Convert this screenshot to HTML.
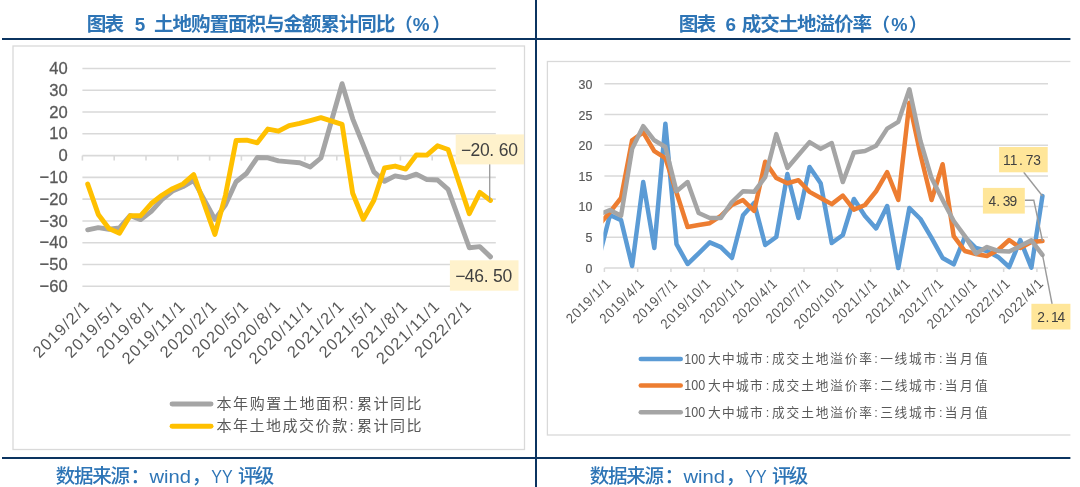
<!DOCTYPE html>
<html><head><meta charset="utf-8"><title>chart</title>
<style>html,body{margin:0;padding:0;background:#fff}svg{display:block}</style></head>
<body><svg role="img" aria-label="图表5 土地购置面积与金额累计同比（%）; 图表6 成交土地溢价率（%）; 数据来源：wind，YY评级" style="will-change:transform" width="1080" height="487" viewBox="0 0 1080 487" font-family="Liberation Sans, sans-serif">
<rect width="1080" height="487" fill="#fff"/>
<rect x="2" y="38" width="1068.4" height="2" fill="#0B3460"/>
<rect x="2" y="457" width="1068.4" height="2" fill="#0B3460"/>
<rect x="535" y="0" width="2" height="487" fill="#0B3460"/>
<g font-family="'Liberation Sans', 'Noto Sans CJK SC', sans-serif" font-weight="bold" fill="#2E75B6">
<text x="86.79" y="30.5" font-size="19.6" textLength="37.3" lengthAdjust="spacing">图表</text>
<text x="134.81" y="30.5" font-size="18.9">5</text>
<text x="154" y="30.5" font-size="19.6" textLength="241.4" lengthAdjust="spacing">土地购置面积与金额累计同比</text>
<text x="394.47" y="30.5" font-size="18.3">（</text>
<text x="412.8" y="30.5" font-size="18.9">%</text>
<text x="432.23" y="30.5" font-size="18.3">）</text>
<text x="678.69" y="30.5" font-size="19.6" textLength="37.36" lengthAdjust="spacing">图表</text>
<text x="725.45" y="30.5" font-size="18.9">6</text>
<text x="741.71" y="30.5" font-size="19.6" textLength="130.4" lengthAdjust="spacing">成交土地溢价率</text>
<text x="871.67" y="30.5" font-size="18.3">（</text>
<text x="891.21" y="30.5" font-size="18.3">%</text>
<text x="908.93" y="30.5" font-size="18.3">）</text>
</g>
<g font-family="'Liberation Sans', 'Noto Sans CJK SC', sans-serif" font-weight="500" fill="#2E75B6">
<text x="55.63" y="483.3" font-size="19.5" textLength="74.4" lengthAdjust="spacing">数据来源</text>
<text x="130.51" y="483.3" font-size="19.5">：</text>
<text x="149.49" y="483.3" font-size="18.9" textLength="41.5" lengthAdjust="spacingAndGlyphs">wind</text>
<text x="191.63" y="483.3" font-size="19.5">，</text>
<text x="211.31" y="483.3" font-size="18.9" textLength="21.4" lengthAdjust="spacingAndGlyphs">YY</text>
<text x="237.97" y="483.3" font-size="19.5" textLength="36.3" lengthAdjust="spacing">评级</text>
<text x="589.63" y="483.3" font-size="19.5" textLength="74.4" lengthAdjust="spacing">数据来源</text>
<text x="664.51" y="483.3" font-size="19.5">：</text>
<text x="683.49" y="483.3" font-size="18.9" textLength="41.5" lengthAdjust="spacingAndGlyphs">wind</text>
<text x="725.63" y="483.3" font-size="19.5">，</text>
<text x="745.31" y="483.3" font-size="18.9" textLength="21.4" lengthAdjust="spacingAndGlyphs">YY</text>
<text x="771.97" y="483.3" font-size="19.5" textLength="36.3" lengthAdjust="spacing">评级</text>
</g>
<rect x="13" y="46" width="511.5" height="403.5" fill="#fff" stroke="#D9D9D9" stroke-width="1.3"/>
<line x1="82.4" x2="495.8" y1="286.28" y2="286.28" stroke="#D9D9D9" stroke-width="1.6"/>
<text transform="translate(67.6,291.93) scale(0.97,1)" font-family="Liberation Sans, sans-serif" font-size="17.1" fill="#595959" stroke="#595959" stroke-width="0.3" text-anchor="end">−60</text>
<line x1="82.4" x2="495.8" y1="264.50" y2="264.50" stroke="#D9D9D9" stroke-width="1.6"/>
<text transform="translate(67.6,270.15) scale(0.97,1)" font-family="Liberation Sans, sans-serif" font-size="17.1" fill="#595959" stroke="#595959" stroke-width="0.3" text-anchor="end">−50</text>
<line x1="82.4" x2="495.8" y1="242.72" y2="242.72" stroke="#D9D9D9" stroke-width="1.6"/>
<text transform="translate(67.6,248.37) scale(0.97,1)" font-family="Liberation Sans, sans-serif" font-size="17.1" fill="#595959" stroke="#595959" stroke-width="0.3" text-anchor="end">−40</text>
<line x1="82.4" x2="495.8" y1="220.94" y2="220.94" stroke="#D9D9D9" stroke-width="1.6"/>
<text transform="translate(67.6,226.59) scale(0.97,1)" font-family="Liberation Sans, sans-serif" font-size="17.1" fill="#595959" stroke="#595959" stroke-width="0.3" text-anchor="end">−30</text>
<line x1="82.4" x2="495.8" y1="199.16" y2="199.16" stroke="#D9D9D9" stroke-width="1.6"/>
<text transform="translate(67.6,204.81) scale(0.97,1)" font-family="Liberation Sans, sans-serif" font-size="17.1" fill="#595959" stroke="#595959" stroke-width="0.3" text-anchor="end">−20</text>
<line x1="82.4" x2="495.8" y1="177.38" y2="177.38" stroke="#D9D9D9" stroke-width="1.6"/>
<text transform="translate(67.6,183.03) scale(0.97,1)" font-family="Liberation Sans, sans-serif" font-size="17.1" fill="#595959" stroke="#595959" stroke-width="0.3" text-anchor="end">−10</text>
<line x1="82.4" x2="495.8" y1="155.60" y2="155.60" stroke="#D9D9D9" stroke-width="1.6"/>
<text transform="translate(67.6,161.25) scale(0.97,1)" font-family="Liberation Sans, sans-serif" font-size="17.1" fill="#595959" stroke="#595959" stroke-width="0.3" text-anchor="end">0</text>
<line x1="82.4" x2="495.8" y1="133.82" y2="133.82" stroke="#D9D9D9" stroke-width="1.6"/>
<text transform="translate(67.6,139.47) scale(0.97,1)" font-family="Liberation Sans, sans-serif" font-size="17.1" fill="#595959" stroke="#595959" stroke-width="0.3" text-anchor="end">10</text>
<line x1="82.4" x2="495.8" y1="112.04" y2="112.04" stroke="#D9D9D9" stroke-width="1.6"/>
<text transform="translate(67.6,117.69) scale(0.97,1)" font-family="Liberation Sans, sans-serif" font-size="17.1" fill="#595959" stroke="#595959" stroke-width="0.3" text-anchor="end">20</text>
<line x1="82.4" x2="495.8" y1="90.26" y2="90.26" stroke="#D9D9D9" stroke-width="1.6"/>
<text transform="translate(67.6,95.91) scale(0.97,1)" font-family="Liberation Sans, sans-serif" font-size="17.1" fill="#595959" stroke="#595959" stroke-width="0.3" text-anchor="end">30</text>
<line x1="82.4" x2="495.8" y1="68.48" y2="68.48" stroke="#D9D9D9" stroke-width="1.6"/>
<text transform="translate(67.6,74.13) scale(0.97,1)" font-family="Liberation Sans, sans-serif" font-size="17.1" fill="#595959" stroke="#595959" stroke-width="0.3" text-anchor="end">40</text>
<line x1="82.40" x2="82.40" y1="155.6" y2="160.6" stroke="#D9D9D9" stroke-width="1.6"/>
<line x1="114.20" x2="114.20" y1="155.6" y2="160.6" stroke="#D9D9D9" stroke-width="1.6"/>
<line x1="146.00" x2="146.00" y1="155.6" y2="160.6" stroke="#D9D9D9" stroke-width="1.6"/>
<line x1="177.80" x2="177.80" y1="155.6" y2="160.6" stroke="#D9D9D9" stroke-width="1.6"/>
<line x1="209.60" x2="209.60" y1="155.6" y2="160.6" stroke="#D9D9D9" stroke-width="1.6"/>
<line x1="241.40" x2="241.40" y1="155.6" y2="160.6" stroke="#D9D9D9" stroke-width="1.6"/>
<line x1="273.20" x2="273.20" y1="155.6" y2="160.6" stroke="#D9D9D9" stroke-width="1.6"/>
<line x1="305.00" x2="305.00" y1="155.6" y2="160.6" stroke="#D9D9D9" stroke-width="1.6"/>
<line x1="336.80" x2="336.80" y1="155.6" y2="160.6" stroke="#D9D9D9" stroke-width="1.6"/>
<line x1="368.60" x2="368.60" y1="155.6" y2="160.6" stroke="#D9D9D9" stroke-width="1.6"/>
<line x1="400.40" x2="400.40" y1="155.6" y2="160.6" stroke="#D9D9D9" stroke-width="1.6"/>
<line x1="432.20" x2="432.20" y1="155.6" y2="160.6" stroke="#D9D9D9" stroke-width="1.6"/>
<line x1="464.00" x2="464.00" y1="155.6" y2="160.6" stroke="#D9D9D9" stroke-width="1.6"/>
<line x1="495.80" x2="495.80" y1="155.6" y2="160.6" stroke="#D9D9D9" stroke-width="1.6"/>
<polyline points="87.70,229.87 98.30,227.69 108.90,229.22 119.50,227.91 130.10,215.50 140.70,219.63 151.30,211.36 161.90,199.60 172.50,191.10 183.10,186.53 193.70,180.43 214.90,219.42 225.50,204.82 236.10,181.74 246.70,173.24 257.30,157.56 267.90,157.78 278.50,160.83 289.10,161.92 299.70,162.79 310.30,166.93 320.90,158.00 342.10,83.73 352.70,118.79 363.30,145.15 373.90,171.94 384.50,181.30 395.10,175.86 405.70,177.82 416.30,174.11 426.90,179.56 437.50,179.99 448.10,189.36 469.30,247.73 479.90,246.64 490.50,256.88" fill="none" stroke="#A5A5A5" stroke-width="4.9" stroke-linejoin="round" stroke-linecap="round"/>
<polyline points="87.70,184.13 98.30,214.41 108.90,228.56 119.50,233.14 130.10,215.71 140.70,215.71 151.30,203.52 161.90,195.24 172.50,188.71 183.10,183.91 193.70,174.55 214.90,234.44 225.50,195.02 236.10,140.57 246.70,140.14 257.30,142.75 267.90,129.03 278.50,131.21 289.10,125.54 299.70,123.37 310.30,120.53 320.90,117.70 342.10,124.45 352.70,193.28 363.30,219.20 373.90,200.25 384.50,168.01 395.10,166.05 405.70,169.10 416.30,154.95 426.90,155.16 437.50,145.80 448.10,149.50 469.30,213.75 479.90,192.41 490.50,200.47" fill="none" stroke="#FFC000" stroke-width="4.9" stroke-linejoin="round" stroke-linecap="round"/>
<text transform="translate(90.30,307.80) rotate(-45)" font-family="Liberation Sans, sans-serif" font-size="16.4" fill="#595959" text-anchor="end" textLength="72" lengthAdjust="spacing">2019/2/1</text>
<text transform="translate(122.10,307.80) rotate(-45)" font-family="Liberation Sans, sans-serif" font-size="16.4" fill="#595959" text-anchor="end" textLength="72" lengthAdjust="spacing">2019/5/1</text>
<text transform="translate(153.90,307.80) rotate(-45)" font-family="Liberation Sans, sans-serif" font-size="16.4" fill="#595959" text-anchor="end" textLength="72" lengthAdjust="spacing">2019/8/1</text>
<text transform="translate(185.70,307.80) rotate(-45)" font-family="Liberation Sans, sans-serif" font-size="16.4" fill="#595959" text-anchor="end" textLength="81" lengthAdjust="spacing">2019/11/1</text>
<text transform="translate(217.50,307.80) rotate(-45)" font-family="Liberation Sans, sans-serif" font-size="16.4" fill="#595959" text-anchor="end" textLength="72" lengthAdjust="spacing">2020/2/1</text>
<text transform="translate(249.30,307.80) rotate(-45)" font-family="Liberation Sans, sans-serif" font-size="16.4" fill="#595959" text-anchor="end" textLength="72" lengthAdjust="spacing">2020/5/1</text>
<text transform="translate(281.10,307.80) rotate(-45)" font-family="Liberation Sans, sans-serif" font-size="16.4" fill="#595959" text-anchor="end" textLength="72" lengthAdjust="spacing">2020/8/1</text>
<text transform="translate(312.90,307.80) rotate(-45)" font-family="Liberation Sans, sans-serif" font-size="16.4" fill="#595959" text-anchor="end" textLength="81" lengthAdjust="spacing">2020/11/1</text>
<text transform="translate(344.70,307.80) rotate(-45)" font-family="Liberation Sans, sans-serif" font-size="16.4" fill="#595959" text-anchor="end" textLength="72" lengthAdjust="spacing">2021/2/1</text>
<text transform="translate(376.50,307.80) rotate(-45)" font-family="Liberation Sans, sans-serif" font-size="16.4" fill="#595959" text-anchor="end" textLength="72" lengthAdjust="spacing">2021/5/1</text>
<text transform="translate(408.30,307.80) rotate(-45)" font-family="Liberation Sans, sans-serif" font-size="16.4" fill="#595959" text-anchor="end" textLength="72" lengthAdjust="spacing">2021/8/1</text>
<text transform="translate(440.10,307.80) rotate(-45)" font-family="Liberation Sans, sans-serif" font-size="16.4" fill="#595959" text-anchor="end" textLength="81" lengthAdjust="spacing">2021/11/1</text>
<text transform="translate(471.90,307.80) rotate(-45)" font-family="Liberation Sans, sans-serif" font-size="16.4" fill="#595959" text-anchor="end" textLength="72" lengthAdjust="spacing">2022/2/1</text>
<line x1="489.7" x2="489.7" y1="164" y2="200.5" stroke="#9A9A9A" stroke-width="1.3"/>
<rect x="455.7" y="134.4" width="68.3" height="30" fill="#FFF2CC"/><text x="461.00 470.45 479.90 489.35 498.80 508.25" y="156" font-family="Liberation Sans, sans-serif" font-size="17.5" fill="#404040">−20.60</text>
<rect x="449.9" y="260.3" width="68.6" height="30.4" fill="#FFF2CC"/><text x="455.30 464.75 474.20 483.65 493.10 502.55" y="282" font-family="Liberation Sans, sans-serif" font-size="17.5" fill="#404040">−46.50</text>
<line x1="172.05" x2="211.05" y1="404" y2="404" stroke="#A5A5A5" stroke-width="4.9" stroke-linecap="round"/>
<line x1="172.05" x2="211.05" y1="426.3" y2="426.3" stroke="#FFC000" stroke-width="4.9" stroke-linecap="round"/>
<g font-family="'Liberation Sans', 'Noto Sans CJK SC', sans-serif" font-size="15" fill="#595959">
<text x="216.55" y="409.2" textLength="131.04" lengthAdjust="spacing">本年购置土地面积</text>
<text x="349.5" y="409.2">:</text>
<text x="356.89" y="409.2" textLength="64.67" lengthAdjust="spacing">累计同比</text>
<text x="216.55" y="431.2" textLength="130.6" lengthAdjust="spacing">本年土地成交价款</text>
<text x="349.5" y="431.2">:</text>
<text x="356.89" y="431.2" textLength="64.67" lengthAdjust="spacing">累计同比</text>
</g>
<clipPath id="rc"><rect x="537" y="40" width="533.4" height="417"/></clipPath>
<g clip-path="url(#rc)">
<rect x="547.4" y="61.5" width="540" height="373.5" fill="#fff" stroke="#D9D9D9" stroke-width="1.3"/>
<line x1="604.4" x2="1048.0" y1="268.00" y2="268.00" stroke="#D9D9D9" stroke-width="1.5"/>
<text transform="translate(592.4,272.50) scale(0.915,1)" font-family="Liberation Sans, sans-serif" font-size="13.6" fill="#595959" stroke="#595959" stroke-width="0.2" text-anchor="end">0</text>
<line x1="604.4" x2="1048.0" y1="237.30" y2="237.30" stroke="#D9D9D9" stroke-width="1.5"/>
<text transform="translate(592.4,241.95) scale(0.915,1)" font-family="Liberation Sans, sans-serif" font-size="13.6" fill="#595959" stroke="#595959" stroke-width="0.2" text-anchor="end">5</text>
<line x1="604.4" x2="1048.0" y1="206.60" y2="206.60" stroke="#D9D9D9" stroke-width="1.5"/>
<text transform="translate(592.4,211.40) scale(0.915,1)" font-family="Liberation Sans, sans-serif" font-size="13.6" fill="#595959" stroke="#595959" stroke-width="0.2" text-anchor="end">10</text>
<line x1="604.4" x2="1048.0" y1="175.90" y2="175.90" stroke="#D9D9D9" stroke-width="1.5"/>
<text transform="translate(592.4,180.85) scale(0.915,1)" font-family="Liberation Sans, sans-serif" font-size="13.6" fill="#595959" stroke="#595959" stroke-width="0.2" text-anchor="end">15</text>
<line x1="604.4" x2="1048.0" y1="145.20" y2="145.20" stroke="#D9D9D9" stroke-width="1.5"/>
<text transform="translate(592.4,150.30) scale(0.915,1)" font-family="Liberation Sans, sans-serif" font-size="13.6" fill="#595959" stroke="#595959" stroke-width="0.2" text-anchor="end">20</text>
<line x1="604.4" x2="1048.0" y1="114.50" y2="114.50" stroke="#D9D9D9" stroke-width="1.5"/>
<text transform="translate(592.4,119.75) scale(0.915,1)" font-family="Liberation Sans, sans-serif" font-size="13.6" fill="#595959" stroke="#595959" stroke-width="0.2" text-anchor="end">25</text>
<line x1="604.4" x2="1048.0" y1="83.80" y2="83.80" stroke="#D9D9D9" stroke-width="1.5"/>
<text transform="translate(592.4,89.20) scale(0.915,1)" font-family="Liberation Sans, sans-serif" font-size="13.6" fill="#595959" stroke="#595959" stroke-width="0.2" text-anchor="end">30</text>
<line x1="604.40" x2="604.40" y1="268.0" y2="272.0" stroke="#D9D9D9" stroke-width="1.5"/>
<line x1="637.67" x2="637.67" y1="268.0" y2="272.0" stroke="#D9D9D9" stroke-width="1.5"/>
<line x1="670.94" x2="670.94" y1="268.0" y2="272.0" stroke="#D9D9D9" stroke-width="1.5"/>
<line x1="704.21" x2="704.21" y1="268.0" y2="272.0" stroke="#D9D9D9" stroke-width="1.5"/>
<line x1="737.48" x2="737.48" y1="268.0" y2="272.0" stroke="#D9D9D9" stroke-width="1.5"/>
<line x1="770.75" x2="770.75" y1="268.0" y2="272.0" stroke="#D9D9D9" stroke-width="1.5"/>
<line x1="804.02" x2="804.02" y1="268.0" y2="272.0" stroke="#D9D9D9" stroke-width="1.5"/>
<line x1="837.29" x2="837.29" y1="268.0" y2="272.0" stroke="#D9D9D9" stroke-width="1.5"/>
<line x1="870.56" x2="870.56" y1="268.0" y2="272.0" stroke="#D9D9D9" stroke-width="1.5"/>
<line x1="903.83" x2="903.83" y1="268.0" y2="272.0" stroke="#D9D9D9" stroke-width="1.5"/>
<line x1="937.10" x2="937.10" y1="268.0" y2="272.0" stroke="#D9D9D9" stroke-width="1.5"/>
<line x1="970.37" x2="970.37" y1="268.0" y2="272.0" stroke="#D9D9D9" stroke-width="1.5"/>
<line x1="1003.64" x2="1003.64" y1="268.0" y2="272.0" stroke="#D9D9D9" stroke-width="1.5"/>
<line x1="1036.91" x2="1036.91" y1="268.0" y2="272.0" stroke="#D9D9D9" stroke-width="1.5"/>
<clipPath id="rp"><rect x="603.4" y="60" width="461" height="230"/></clipPath>
<g clip-path="url(#rp)">
<polyline points="598.86,258.18 609.94,215.01 621.03,220.11 632.12,265.97 643.21,182.04 654.30,247.98 665.39,123.71 676.49,244.05 687.57,264.01 698.66,253.26 709.75,242.40 720.85,247.12 731.93,257.99 743.02,215.20 754.12,202.92 765.20,244.97 776.29,236.99 787.38,174.06 798.47,218.02 809.56,167.00 820.65,183.27 831.75,243.01 842.84,235.03 853.92,198.99 865.01,215.99 876.11,228.40 887.19,205.99 898.28,268.00 909.38,208.01 920.46,219.00 931.55,237.91 942.64,257.99 953.73,264.32 964.83,236.99 975.91,247.98 987.00,250.99 998.10,256.95 1009.18,267.02 1020.27,240.00 1031.37,267.57 1042.45,195.98" fill="none" stroke="#5B9BD5" stroke-width="4.5" stroke-linejoin="round" stroke-linecap="round"/>
<polyline points="598.86,225.02 609.94,212.13 621.03,198.00 632.12,140.29 643.21,132.31 654.30,151.03 665.39,158.09 676.49,192.48 687.57,226.98 698.66,225.02 709.75,223.18 720.85,215.81 731.93,205.00 743.02,200.03 754.12,210.90 765.20,161.78 776.29,178.05 787.38,183.27 798.47,180.20 809.56,191.86 820.65,198.00 831.75,204.14 842.84,195.55 853.92,209.67 865.01,205.00 876.11,191.25 887.19,172.22 898.28,200.03 909.38,102.83 920.46,154.41 931.55,200.03 942.64,164.23 953.73,236.07 964.83,250.99 975.91,254.00 987.00,256.03 998.10,250.01 1009.18,240.00 1020.27,247.98 1031.37,242.03 1042.45,241.05" fill="none" stroke="#ED7D31" stroke-width="4.5" stroke-linejoin="round" stroke-linecap="round"/>
<polyline points="598.86,214.58 609.94,209.98 621.03,215.81 632.12,148.88 643.21,126.17 654.30,140.29 665.39,147.04 676.49,191.25 687.57,182.04 698.66,212.99 709.75,218.02 720.85,218.02 731.93,202.00 743.02,191.25 754.12,191.86 765.20,177.13 776.29,134.15 787.38,167.92 798.47,155.02 809.56,142.13 820.65,148.88 831.75,142.99 842.84,182.04 853.92,152.57 865.01,151.03 876.11,145.81 887.19,128.62 898.28,121.87 909.38,89.33 920.46,140.90 931.55,178.05 942.64,200.03 953.73,221.03 964.83,236.07 975.91,253.57 987.00,247.00 998.10,250.99 1009.18,251.61 1020.27,246.02 1031.37,240.37 1042.45,254.86" fill="none" stroke="#A5A5A5" stroke-width="4.5" stroke-linejoin="round" stroke-linecap="round"/>
</g>
<text transform="translate(611.44,284.80) rotate(-45) scale(0.9,1)" font-family="Liberation Sans, sans-serif" font-size="14.2" fill="#595959" text-anchor="end" textLength="62.2" lengthAdjust="spacing">2019/1/1</text>
<text transform="translate(644.71,284.80) rotate(-45) scale(0.9,1)" font-family="Liberation Sans, sans-serif" font-size="14.2" fill="#595959" text-anchor="end" textLength="62.2" lengthAdjust="spacing">2019/4/1</text>
<text transform="translate(677.99,284.80) rotate(-45) scale(0.9,1)" font-family="Liberation Sans, sans-serif" font-size="14.2" fill="#595959" text-anchor="end" textLength="62.2" lengthAdjust="spacing">2019/7/1</text>
<text transform="translate(711.25,284.80) rotate(-45) scale(0.9,1)" font-family="Liberation Sans, sans-serif" font-size="14.2" fill="#595959" text-anchor="end" textLength="70.6" lengthAdjust="spacing">2019/10/1</text>
<text transform="translate(744.52,284.80) rotate(-45) scale(0.9,1)" font-family="Liberation Sans, sans-serif" font-size="14.2" fill="#595959" text-anchor="end" textLength="62.2" lengthAdjust="spacing">2020/1/1</text>
<text transform="translate(777.79,284.80) rotate(-45) scale(0.9,1)" font-family="Liberation Sans, sans-serif" font-size="14.2" fill="#595959" text-anchor="end" textLength="62.2" lengthAdjust="spacing">2020/4/1</text>
<text transform="translate(811.06,284.80) rotate(-45) scale(0.9,1)" font-family="Liberation Sans, sans-serif" font-size="14.2" fill="#595959" text-anchor="end" textLength="62.2" lengthAdjust="spacing">2020/7/1</text>
<text transform="translate(844.34,284.80) rotate(-45) scale(0.9,1)" font-family="Liberation Sans, sans-serif" font-size="14.2" fill="#595959" text-anchor="end" textLength="70.6" lengthAdjust="spacing">2020/10/1</text>
<text transform="translate(877.61,284.80) rotate(-45) scale(0.9,1)" font-family="Liberation Sans, sans-serif" font-size="14.2" fill="#595959" text-anchor="end" textLength="62.2" lengthAdjust="spacing">2021/1/1</text>
<text transform="translate(910.88,284.80) rotate(-45) scale(0.9,1)" font-family="Liberation Sans, sans-serif" font-size="14.2" fill="#595959" text-anchor="end" textLength="62.2" lengthAdjust="spacing">2021/4/1</text>
<text transform="translate(944.14,284.80) rotate(-45) scale(0.9,1)" font-family="Liberation Sans, sans-serif" font-size="14.2" fill="#595959" text-anchor="end" textLength="62.2" lengthAdjust="spacing">2021/7/1</text>
<text transform="translate(977.41,284.80) rotate(-45) scale(0.9,1)" font-family="Liberation Sans, sans-serif" font-size="14.2" fill="#595959" text-anchor="end" textLength="70.6" lengthAdjust="spacing">2021/10/1</text>
<text transform="translate(1010.68,284.80) rotate(-45) scale(0.9,1)" font-family="Liberation Sans, sans-serif" font-size="14.2" fill="#595959" text-anchor="end" textLength="62.2" lengthAdjust="spacing">2022/1/1</text>
<text transform="translate(1043.95,284.80) rotate(-45) scale(0.9,1)" font-family="Liberation Sans, sans-serif" font-size="14.2" fill="#595959" text-anchor="end" textLength="62.2" lengthAdjust="spacing">2022/4/1</text>
<polyline points="1023.7,172.3 1042.5,196.0" fill="none" stroke="#9A9A9A" stroke-width="1.4"/>
<polyline points="1024.8,200.3 1033.8,200.3 1042.5,241.0" fill="none" stroke="#9A9A9A" stroke-width="1.4"/>
<polyline points="1042.5,254.9 1052.1,304" fill="none" stroke="#9A9A9A" stroke-width="1.4"/>
<rect x="999.1" y="147" width="48.6" height="25.3" fill="#FFE699"/><text x="1002.90 1009.70 1019.10 1025.80 1033.35" y="164.8" font-family="Liberation Sans, sans-serif" font-size="13.8" fill="#404040">11.73</text>
<rect x="982.9" y="187.9" width="41.9" height="25.7" fill="#FFE699"/><text x="988.50 996.30 1002.65 1009.55" y="205.8" font-family="Liberation Sans, sans-serif" font-size="13.8" fill="#404040">4.39</text>
<rect x="1031.4" y="303.8" width="45" height="25.7" fill="#FFE699"/><text x="1037.20 1045.40 1051.00 1057.40" y="321.9" font-family="Liberation Sans, sans-serif" font-size="13.8" fill="#404040">2.14</text>
<line x1="640.75" x2="680.75" y1="359" y2="359" stroke="#5B9BD5" stroke-width="4.5" stroke-linecap="round"/>
<text transform="translate(684.3,363.6) scale(0.87,1)" font-family="Liberation Sans, sans-serif" font-size="14.4" fill="#595959">100</text>
<g font-family="'Liberation Sans', 'Noto Sans CJK SC', sans-serif" font-size="12.7" fill="#595959">
<text x="708.08" y="363.37" textLength="54.63" lengthAdjust="spacing">大中城市</text>
<text x="765.8" y="363.37">:</text>
<text x="772.08" y="363.37" textLength="99.89" lengthAdjust="spacing">成交土地溢价率</text>
<text x="874.3" y="363.37">:</text>
<text x="880.15" y="363.37" textLength="55.96" lengthAdjust="spacing">一线城市</text>
<text x="939" y="363.37">:</text>
<text x="944.72" y="363.37" textLength="43.05" lengthAdjust="spacing">当月值</text>
</g>
<line x1="640.75" x2="680.75" y1="385.6" y2="385.6" stroke="#ED7D31" stroke-width="4.5" stroke-linecap="round"/>
<text transform="translate(684.3,390.20000000000005) scale(0.87,1)" font-family="Liberation Sans, sans-serif" font-size="14.4" fill="#595959">100</text>
<g font-family="'Liberation Sans', 'Noto Sans CJK SC', sans-serif" font-size="12.7" fill="#595959">
<text x="708.08" y="389.97" textLength="54.63" lengthAdjust="spacing">大中城市</text>
<text x="765.8" y="389.97">:</text>
<text x="772.08" y="389.97" textLength="99.89" lengthAdjust="spacing">成交土地溢价率</text>
<text x="874.3" y="389.97">:</text>
<text x="880.24" y="389.97" textLength="55.87" lengthAdjust="spacing">二线城市</text>
<text x="939" y="389.97">:</text>
<text x="944.72" y="389.97" textLength="43.05" lengthAdjust="spacing">当月值</text>
</g>
<line x1="640.75" x2="680.75" y1="412.3" y2="412.3" stroke="#A5A5A5" stroke-width="4.5" stroke-linecap="round"/>
<text transform="translate(684.3,416.90000000000003) scale(0.87,1)" font-family="Liberation Sans, sans-serif" font-size="14.4" fill="#595959">100</text>
<g font-family="'Liberation Sans', 'Noto Sans CJK SC', sans-serif" font-size="12.7" fill="#595959">
<text x="708.08" y="416.67" textLength="54.63" lengthAdjust="spacing">大中城市</text>
<text x="765.8" y="416.67">:</text>
<text x="772.08" y="416.67" textLength="99.89" lengthAdjust="spacing">成交土地溢价率</text>
<text x="874.3" y="416.67">:</text>
<text x="880.16" y="416.67" textLength="55.95" lengthAdjust="spacing">三线城市</text>
<text x="939" y="416.67">:</text>
<text x="944.72" y="416.67" textLength="43.05" lengthAdjust="spacing">当月值</text>
</g>
</g>
</svg></body></html>
